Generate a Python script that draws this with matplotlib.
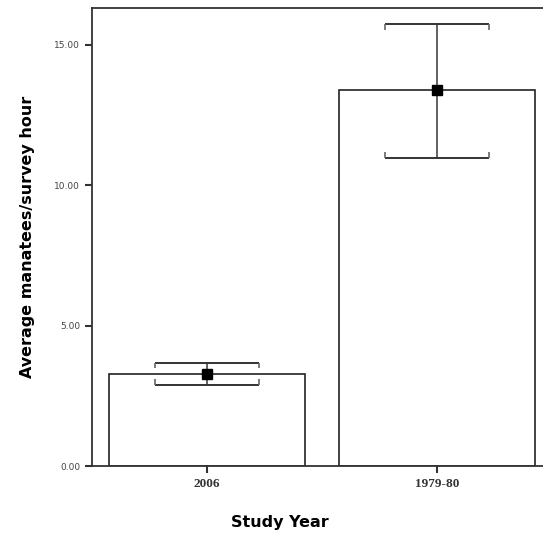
import matplotlib.pyplot as plt

years = ['2006', '1979-80']
means = [3.28, 13.38]
ci_low = [2.88, 10.96]
ci_high = [3.68, 15.73]

fig = plt.figure(figsize=(5.43, 5.41), dpi=100)
# right spine sits just past the right edge of the image, like the original
ax = fig.add_axes([92 / 543, 75 / 541, 460 / 543, 458 / 541])

x = list(range(len(years)))
ax.bar(x, means, width=0.85, color='white', edgecolor='#222222', linewidth=1.2, zorder=1)

err_lo = [m - l for m, l in zip(means, ci_low)]
err_hi = [h - m for m, h in zip(means, ci_high)]
ax.errorbar(x, means, yerr=[err_lo, err_hi], fmt='none', ecolor='#555555',
            elinewidth=1.3, capsize=0, zorder=2)
hook = 0.2
for xi, lo, hi in zip(x, ci_low, ci_high):
    ax.hlines([lo, hi], xi - 0.225, xi + 0.225, color='#333333', linewidth=1.4, zorder=2)
    # small end hooks on the caps, pointing toward the mean
    ax.vlines([xi - 0.225, xi + 0.225], hi - hook, hi, color='#666666', linewidth=1.2, zorder=2)
    ax.vlines([xi - 0.225, xi + 0.225], lo, lo + hook, color='#666666', linewidth=1.2, zorder=2)
ax.plot(x, means, 's', color='black', markersize=7, zorder=3)

ax.set_xlim(-0.5, 1.5)
ax.set_ylim(0, 16.3)
ax.set_yticks([0, 5, 10, 15])
ax.set_yticklabels(['0.00', '5.00', '10.00', '15.00'], fontsize=6.5, color='#444444')
ax.set_xticks(x)
ax.set_xticklabels(years, fontsize=9.5, family='Liberation Serif', fontweight='bold', color='#333333')
ax.tick_params(axis='both', direction='out', length=5, width=1.5, color='#333333')

for s in ax.spines.values():
    s.set_linewidth(1.3)
    s.set_color('#333333')

ax.set_ylabel('Average manatees/survey hour', fontsize=11.5, fontweight='bold', labelpad=14)
fig.text(280 / 543, 1 - 523 / 541, 'Study Year', fontsize=11.5, fontweight='bold',
         ha='center', va='center')

fig.savefig('out.png', dpi=100)
